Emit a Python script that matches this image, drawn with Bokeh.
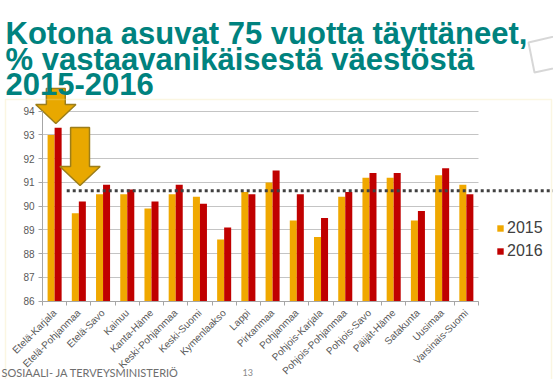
import math
from bokeh.plotting import figure
from bokeh.models import Range1d, FixedTicker, Label, BoxAnnotation, PolyAnnotation, ColumnDataSource
from bokeh.embed import file_html
from bokeh.resources import INLINE

# ---------------- data ----------------
regions = ["Etelä-Karjala", "Etelä-Pohjanmaa", "Etelä-Savo", "Kainuu", "Kanta-Häme",
           "Keski-Pohjanmaa", "Keski-Suomi", "Kymenlaakso", "Lappi", "Pirkanmaa",
           "Pohjanmaa", "Pohjois-Karjala", "Pohjois-Pohjanmaa", "Pohjois-Savo",
           "Päijät-Häme", "Satakunta", "Uusimaa", "Varsinais-Suomi"]
v2015 = [93.0, 89.7, 90.5, 90.5, 89.9, 90.5, 90.4, 88.6, 90.6, 91.0,
         89.4, 88.7, 90.4, 91.2, 91.2, 89.4, 91.3, 90.9]
v2016 = [93.3, 90.2, 90.9, 90.7, 90.2, 90.9, 90.1, 89.1, 90.5, 91.5,
         90.5, 89.5, 90.6, 91.4, 91.4, 89.8, 91.6, 90.5]
years = ["2015", "2016"]
y_ticks = [86, 87, 88, 89, 90, 91, 92, 93, 94]
national_avg = 90.65
arrow_cats = [0, 1]          # region index the arrows point at
arrow_tips = [93.48, 90.87]
arrow_tails = [94.96, 93.31]

title_lines = ["Kotona asuvat 75 vuotta täyttäneet,",
               "% vastaavanikäisestä väestöstä",
               "2015-2016"]
footer_text = "SOSIAALI- JA TERVEYSMINISTERIÖ"
page_no = "13"

# ---------------- layout (pixels) ----------------
W, H = 553, 379
AX_X = 42.0                # pixel of the y axis
AX_Y = 300.7               # pixel of the value 86
pitch = 24.22              # px per category
ppu = 23.75                # px per y unit
x_start = 0.5 - AX_X / pitch
x_end = 0.5 + (W - AX_X) / pitch
y_start = 86 - (H - AX_Y) / ppu
y_end = 86 + AX_Y / ppu

C2015 = "#F0A800"
C2016 = "#C00000"
TEAL = "#00827E"
GREY_TXT = "#595959"
AXIS_GREY = "#A6A6A6"

p = figure(width=W, height=H, output_backend="svg", toolbar_location=None,
           x_range=Range1d(x_start, x_end), y_range=Range1d(y_start, y_end),
           min_border=0, title=None)
p.outline_line_color = None
p.background_fill_color = "white"
p.border_fill_color = "white"

# outer chart frame (light yellow)
p.add_layout(BoxAnnotation(left=5, right=551, top=99, bottom=430,
                           left_units="canvas", right_units="canvas",
                           top_units="canvas", bottom_units="canvas",
                           fill_color=None, line_color="#F2E2A0", line_width=1.5))

# paper doodle, top right
p.add_layout(PolyAnnotation(xs=[575, 528, 534, 575], ys=[31, 42, 72, 63],
                            xs_units="canvas", ys_units="canvas",
                            fill_color=None, line_color="#7A7A7A", line_width=2))

# gridlines
n = len(regions)
p.xgrid.visible = False
p.ygrid.ticker = FixedTicker(ticks=y_ticks)
p.ygrid.grid_line_color = "#C4C4C4"
p.ygrid.grid_line_width = 1
if hasattr(p.ygrid, "cross_bounds"):
    p.ygrid.cross_bounds = (0.5, n + 0.5)

centers = [i + 1 for i in range(n)]
src = ColumnDataSource(dict(
    x15=[c - 0.145 for c in centers], x16=[c + 0.145 for c in centers],
    v15=v2015, v16=v2016))
p.vbar(x="x15", top="v15", bottom=86, width=0.29, source=src,
       fill_color=C2015, line_color=None, legend_label=years[0])
p.vbar(x="x16", top="v16", bottom=86, width=0.29, source=src,
       fill_color=C2016, line_color=None, legend_label=years[1])

# national average dotted line
p.segment(x0=[centers[arrow_cats[1]] - 0.5], x1=[x_end], y0=[national_avg], y1=[national_avg],
          line_color="#404040", line_width=3, line_dash="3 3")

# arrows
def arrow_poly(cx, tip, tail, head_len=0.80, head_hw=0.83, shaft_hw=0.39):
    base = tip + head_len
    xs = [cx - shaft_hw, cx + shaft_hw, cx + shaft_hw, cx + head_hw, cx,
          cx - head_hw, cx - shaft_hw]
    ys = [tail, tail, base, base, tip, base, base]
    return xs, ys

axs, ays = [], []
for c, t, tl in zip(arrow_cats, arrow_tips, arrow_tails):
    xs, ys = arrow_poly(centers[c] + 0.05, t, tl)
    axs.append(xs)
    ays.append(ys)
p.patches(xs=axs, ys=ays, fill_color="#E8A800", line_color="#9C7E1A", line_width=1.5)

# x axis
xa = p.xaxis[0]
xa.fixed_location = 86
xa.ticker = FixedTicker(ticks=centers, minor_ticks=[c + 0.5 for c in [0] + centers])
xa.major_label_overrides = {c: r for c, r in zip(centers, regions)}
xa.major_label_orientation = math.pi / 4
xa.bounds = (0.5, n + 0.5)
xa.major_tick_out = 0
xa.major_tick_in = 0
xa.minor_tick_out = 4
xa.minor_tick_in = 0
xa.minor_tick_line_color = AXIS_GREY
xa.axis_line_color = AXIS_GREY
xa.major_label_text_font = "Liberation Sans"
xa.major_label_text_font_size = "10px"
xa.major_label_text_color = GREY_TXT
xa.major_label_standoff = 6

ya = p.yaxis[0]
ya.fixed_location = 0.5
ya.ticker = FixedTicker(ticks=y_ticks)
ya.bounds = (86, 94)
ya.major_tick_out = 4
ya.major_tick_in = 0
ya.minor_tick_out = 0
ya.minor_tick_in = 0
ya.major_tick_line_color = AXIS_GREY
ya.axis_line_color = AXIS_GREY
ya.major_label_text_font = "Liberation Sans"
ya.major_label_text_font_size = "10px"
ya.major_label_text_color = GREY_TXT
ya.major_label_standoff = 4

# legend (location = bottom-left corner, measured from the bottom)
lg = p.legend[0]
lg.location = (496, H - 260)
lg.background_fill_alpha = 0
lg.border_line_color = None
lg.glyph_width = 8
lg.glyph_height = 8
lg.label_height = 18
lg.spacing = 5
lg.padding = 0
lg.margin = 0
lg.label_standoff = 3
lg.label_text_font = "Liberation Sans"
lg.label_text_font_size = "16px"
lg.label_text_color = "#404040"

# title
for line, base_y in zip(title_lines, [33, 59, 83]):
    p.add_layout(Label(x=5, y=H - base_y, x_units="screen", y_units="screen",
                       text=line, text_font="Liberation Sans", text_font_style="bold",
                       text_font_size="31px", text_color=TEAL,
                       text_baseline="alphabetic", text_align="left"))

# footer
p.add_layout(Label(x=1, y=H - 372, x_units="screen", y_units="screen",
                   text=footer_text, text_font="Lato", text_font_size="11px",
                   text_color="#6E6E6E", text_baseline="alphabetic"))
p.add_layout(Label(x=242, y=H - 372, x_units="screen", y_units="screen",
                   text=page_no, text_font="Lato", text_font_size="9px",
                   text_color="#8A8A8A", text_baseline="alphabetic"))

open("out.html", "w").write(file_html(p, INLINE))
